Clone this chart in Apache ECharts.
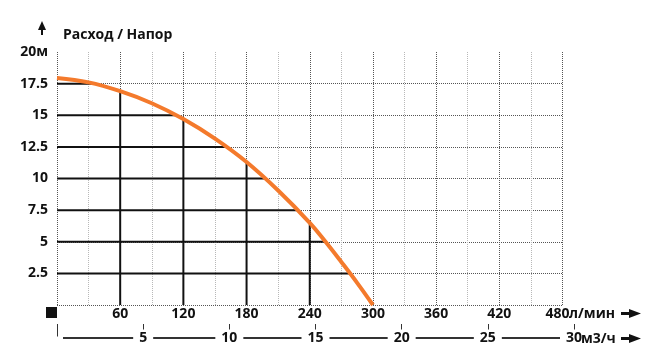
<!DOCTYPE html>
<html>
<head>
<meta charset="utf-8">
<script src="https://cdn.jsdelivr.net/npm/echarts@6/dist/echarts.min.js"></script>
<style>
  html, body { margin: 0; padding: 0; background: #fff; }
</style>
</head>
<body>
<div id="main" style="width: 650px; height: 355px;"></div>
<script>
// расход, л/мин -> напор, м
var flowLpm = [0, 30, 60, 90, 120, 150, 180, 210, 240, 255, 270, 285, 300];
var headM = [17.95, 17.6, 16.9, 15.95, 14.7, 13.15, 11.3, 9.05, 6.5, 5.0, 3.4, 1.75, 0];
// solid lines under the curve
var headLevels = [2.5, 5, 7.5, 10, 12.5, 15, 17.5];
var flowMarks = [60, 120, 180, 240];
var m3hTicks = [5, 10, 15, 20, 25, 30];

var FONT = '"Open Sans", "DejaVu Sans", sans-serif';
var INK = '#111';

// linear lookup on the curve table
function headAt(x) {
  for (var i = 0; i < flowLpm.length - 1; i++) {
    if (x >= flowLpm[i] && x <= flowLpm[i + 1]) {
      var t = (x - flowLpm[i]) / (flowLpm[i + 1] - flowLpm[i]);
      return headM[i] + t * (headM[i + 1] - headM[i]);
    }
  }
  return 0;
}
function flowAt(y) {
  for (var i = 0; i < headM.length - 1; i++) {
    if (y <= headM[i] && y >= headM[i + 1]) {
      var t = (headM[i] - y) / (headM[i] - headM[i + 1]);
      return flowLpm[i] + t * (flowLpm[i + 1] - flowLpm[i]);
    }
  }
  return 0;
}

var curve = flowLpm.map(function (x, i) { return [x, headM[i]]; });
var dropLines = headLevels.map(function (v) { return [0, v]; })
  .concat(flowMarks.map(function (v) { return [1, v]; }));

var myChart = echarts.init(document.getElementById('main'));

var option = {
  animation: false,
  grid: [
    { left: 57, right: 87.5, top: 52, bottom: 50 },
    { left: 57, right: 76, top: 320, bottom: 17 }
  ],
  xAxis: [
    {
      type: 'value', gridIndex: 0, min: 0, max: 480, interval: 60,
      axisLine: { show: false },
      axisTick: { show: false },
      minorTick: { show: false, splitNumber: 2 },
      splitLine: { show: true, lineStyle: { color: '#555', type: 'dotted', width: 1 } },
      minorSplitLine: { show: true, lineStyle: { color: '#b8b8b8', type: 'dotted', width: 1 } },
      axisLabel: {
        margin: 2, color: INK, fontFamily: FONT, fontWeight: 'bold', fontSize: 14,
        formatter: function (v) {
          if (v === 0) return '';
          return v === 480 ? '{r|480}' : String(v);
        },
        rich: { r: { fontFamily: FONT, fontWeight: 'bold', fontSize: 14, color: INK, padding: [0, 10, 0, 0] } }
      }
    },
    {
      type: 'value', gridIndex: 1, min: 0, max: 30, interval: 5,
      axisLine: { show: true, lineStyle: { color: '#333', width: 2 } },
      axisTick: { show: true, inside: true, length: 14, lineStyle: { color: '#333', width: 1 } },
      splitLine: { show: false },
      axisLabel: {
        margin: 0, verticalAlign: 'middle', color: INK, fontFamily: FONT,
        fontWeight: 'bold', fontSize: 14, backgroundColor: '#fff', padding: [2, 6, 1, 6],
        formatter: function (v) { return m3hTicks.indexOf(v) >= 0 ? String(v) : ''; }
      }
    }
  ],
  yAxis: [
    {
      type: 'value', gridIndex: 0, min: 0, max: 20, interval: 2.5,
      axisLine: { show: false },
      axisTick: { show: false },
      splitLine: {
        show: true,
        lineStyle: {
          color: ['#555', '#555', '#555', '#555', '#555', '#555', '#555', '#555', 'rgba(0,0,0,0)'],
          type: 'dotted', width: 1
        }
      },
      axisLabel: {
        margin: 9, color: INK, fontFamily: FONT, fontWeight: 'bold', fontSize: 14,
        formatter: function (v) { return v === 0 ? '' : (v === 20 ? '20м' : String(v)); }
      }
    },
    { type: 'value', gridIndex: 1, show: false, min: 0, max: 1 }
  ],
  graphic: [
    { type: 'text', z: 100, left: 63, top: 28, style: { text: 'Расход / Напор', fill: INK, font: 'bold 14px ' + FONT } },
    { type: 'rect', z: 100, shape: { x: 46, y: 307, width: 11, height: 11 }, style: { fill: INK } },
    // y arrow
    { type: 'polygon', z: 100, shape: { points: [[42, 21], [38, 30], [46, 30]] }, style: { fill: INK } },
    { type: 'rect', z: 100, shape: { x: 41, y: 29, width: 2, height: 6 }, style: { fill: INK } },
    // unit suffixes and arrows
    { type: 'text', z: 100, x: 569, y: 314, style: { text: 'л/мин', fill: INK, font: 'bold 14px ' + FONT, verticalAlign: 'middle' } },
    { type: 'rect', z: 100, shape: { x: 621, y: 312, width: 9, height: 3 }, style: { fill: INK } },
    { type: 'polygon', z: 100, shape: { points: [[629, 309], [641, 313.5], [629, 318]] }, style: { fill: INK } },
    { type: 'text', z: 100, x: 581, y: 339, style: { text: 'м3/ч', fill: INK, font: 'bold 14px ' + FONT, verticalAlign: 'middle' } },
    { type: 'rect', z: 100, shape: { x: 621, y: 337, width: 9, height: 3 }, style: { fill: INK } },
    { type: 'polygon', z: 100, shape: { points: [[629, 334], [641, 338.5], [629, 343]] }, style: { fill: INK } }
  ],
  series: [
    {
      type: 'custom',
      xAxisIndex: 0, yAxisIndex: 0,
      data: dropLines,
      z: 3,
      renderItem: function (params, api) {
        var kind = api.value(0);
        var v = api.value(1);
        var p1, p2;
        if (kind === 0) {
          p1 = api.coord([0, v]);
          p2 = api.coord([flowAt(v), v]);
        } else {
          p1 = api.coord([v, 0]);
          p2 = api.coord([v, headAt(v)]);
        }
        return {
          type: 'line',
          shape: { x1: p1[0], y1: p1[1], x2: p2[0], y2: p2[1] },
          style: { stroke: INK, lineWidth: 2 }
        };
      }
    },
    {
      type: 'line',
      xAxisIndex: 0, yAxisIndex: 0,
      data: curve,
      z: 5,
      smooth: 0.4,
      showSymbol: false,
      lineStyle: { color: '#f47a2c', width: 4 }
    }
  ]
};

myChart.setOption(option);
</script>
</body>
</html>
